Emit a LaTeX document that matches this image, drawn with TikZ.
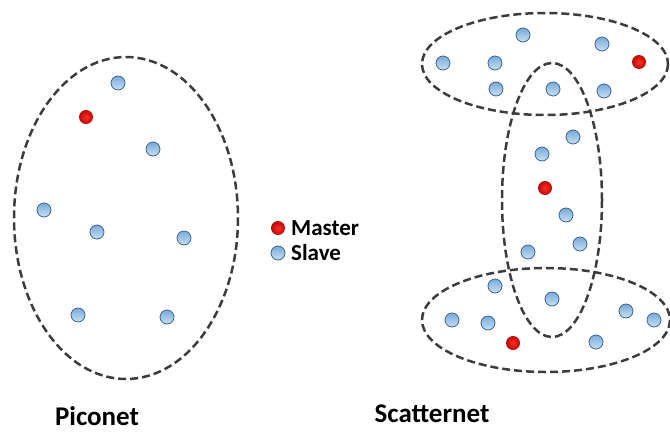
\documentclass[tikz,border=0pt]{standalone}
\usepackage{fontspec}
\setmainfont{Carlito}
\definecolor{linegray}{RGB}{58,60,64}
\definecolor{slaveblue}{RGB}{120,170,215}
\definecolor{slavelight}{RGB}{200,225,245}
\definecolor{slaveedge}{RGB}{60,100,145}
\definecolor{masterred}{RGB}{255,45,35}
\definecolor{masterdark}{RGB}{185,10,10}
\tikzset{
  slave/.style={circle,minimum size=14pt,inner sep=0pt,draw=slaveedge,line width=0.8pt,top color=slaveblue,bottom color=slavelight},
  master/.style={circle,minimum size=14pt,inner sep=0pt,inner color=masterred,outer color=masterdark},
  netline/.style={linegray,line width=2.5pt,dash pattern=on 8pt off 4pt},
  caption/.style={font=\bfseries\fontsize{27}{31}\selectfont},
  legend/.style={font=\bfseries\fontsize{23}{27}\selectfont,anchor=west,inner sep=0pt}
}
\newcommand{\station}[4]{%
  \node[#1] (#2) at (#3,#4) {};%
}

\begin{document}
\begin{tikzpicture}[x=1pt,y=-1pt]
  \useasboundingbox (0,0) rectangle (670,432);

  % piconet
  \draw[netline] (126,218) ellipse [x radius=112,y radius=161];
  \station{slave}{p1}{118}{83}
  \station{master}{pm}{86}{117}
  \station{slave}{p2}{153}{149}
  \station{slave}{p3}{44}{210}
  \station{slave}{p4}{97}{232}
  \station{slave}{p5}{184}{238}
  \station{slave}{p6}{78}{315}
  \station{slave}{p7}{167}{317}
  \node[caption] (picocap) at (97,416) {Piconet};

  % legend
  \station{master}{keym}{278}{228}
  \station{slave}{keys}{278}{253}
  \node[legend] (keymtext) at (291,228) {Master};
  \node[legend] (keystext) at (291,253) {Slave};

  % scatternet
  \draw[netline] (545,64) ellipse [x radius=123,y radius=51];
  \draw[netline] (552,200) ellipse [x radius=50,y radius=137];
  \draw[netline] (546,320) ellipse [x radius=124,y radius=52];

  \station{slave}{t1}{523}{35}
  \station{slave}{t2}{602}{44}
  \station{slave}{t3}{443}{63}
  \station{slave}{t4}{495}{63}
  \station{master}{tm}{639}{62}
  \station{slave}{t5}{496}{89}
  \station{slave}{t6}{553}{89}
  \station{slave}{t7}{604}{91}

  \station{slave}{m1}{573}{137}
  \station{slave}{m2}{542}{154}
  \station{master}{mm}{545}{188}
  \station{slave}{m3}{566}{215}
  \station{slave}{m4}{580}{244}
  \station{slave}{m5}{528}{252}

  \station{slave}{b1}{495}{286}
  \station{slave}{b2}{552}{299}
  \station{slave}{b3}{452}{320}
  \station{slave}{b4}{488}{323}
  \station{master}{bm}{513}{343}
  \station{slave}{b5}{596}{342}
  \station{slave}{b6}{626}{311}
  \station{slave}{b7}{654}{320}
  \node[caption] (scattercap) at (432,414) {Scatternet};
\end{tikzpicture}
\end{document}
